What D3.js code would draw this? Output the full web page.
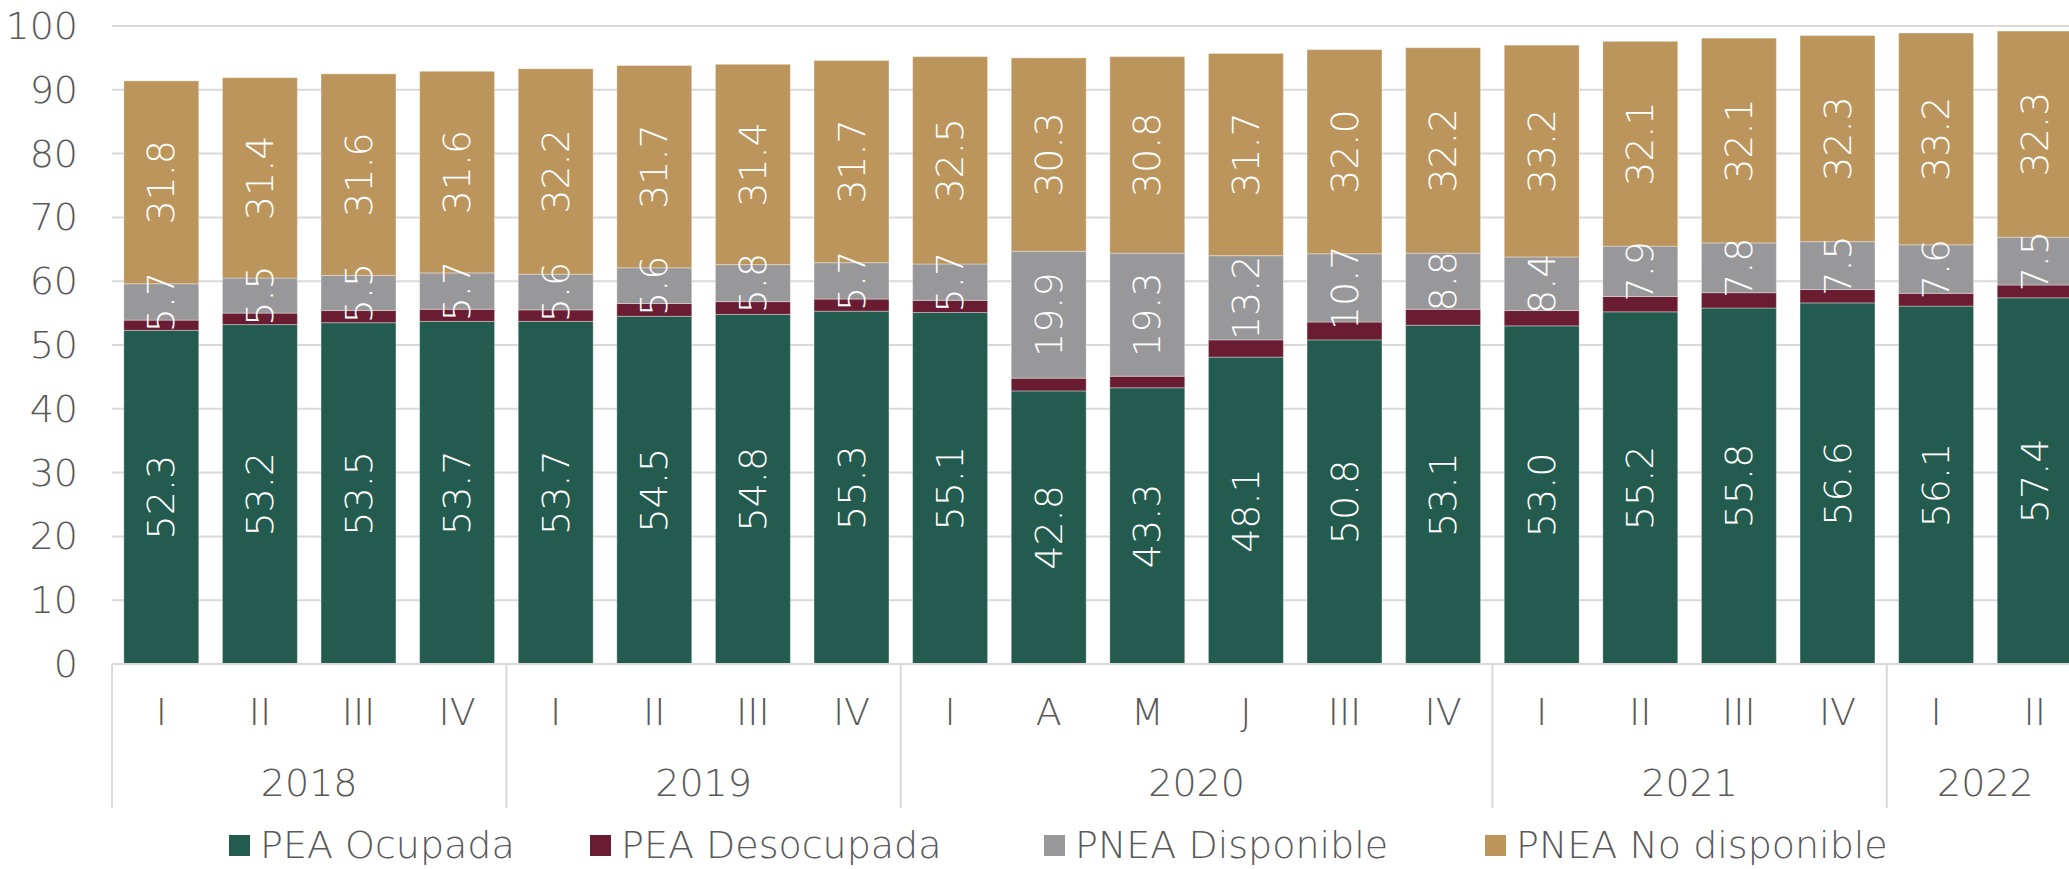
<!DOCTYPE html>
<html>
<head>
<meta charset="utf-8">
<script src="https://cdn.jsdelivr.net/npm/d3@7"></script>
<style>
  body { margin: 0; background: #fff; }
  svg { display: block; font-family: "DejaVu Sans", "Open Sans", sans-serif; font-weight: 200; }
</style>
</head>
<body>
<div id="chart_container"></div>
<script>
// chart dimensions
const WIDTH = 2069;
const HEIGHT = 869;
const PLOT = Object.freeze({ left: 112, right: 2084, top: 26, bottom: 664 });
const FONT_SIZE = "38px";

// data (millones de personas)
const periods = ["I", "II", "III", "IV", "I", "II", "III", "IV", "I", "A", "M", "J", "III", "IV", "I", "II", "III", "IV", "I", "II"];
const years = ["2018", "2018", "2018", "2018", "2019", "2019", "2019", "2019", "2020", "2020", "2020", "2020", "2020", "2020", "2021", "2021", "2021", "2021", "2022", "2022"];
const peaOcupada = [52.3, 53.2, 53.5, 53.7, 53.7, 54.5, 54.8, 55.3, 55.1, 42.8, 43.3, 48.1, 50.8, 53.1, 53.0, 55.2, 55.8, 56.6, 56.1, 57.4];
const peaDesocupada = [1.6, 1.8, 1.9, 1.9, 1.8, 2.0, 2.0, 1.9, 1.9, 2.0, 1.8, 2.7, 2.8, 2.5, 2.4, 2.4, 2.4, 2.1, 2.0, 2.0];
const pneaDisponible = [5.7, 5.5, 5.5, 5.7, 5.6, 5.6, 5.8, 5.7, 5.7, 19.9, 19.3, 13.2, 10.7, 8.8, 8.4, 7.9, 7.8, 7.5, 7.6, 7.5];
const pneaNoDisponible = [31.8, 31.4, 31.6, 31.6, 32.2, 31.7, 31.4, 31.7, 32.5, 30.3, 30.8, 31.7, 32.0, 32.2, 33.2, 32.1, 32.1, 32.3, 33.2, 32.3];
const yTicks = [0, 10, 20, 30, 40, 50, 60, 70, 80, 90, 100];

const SERIES = [
  { key: "ocupada", name: "PEA Ocupada", values: peaOcupada, color: "#235B4E", label: true },
  { key: "desocupada", name: "PEA Desocupada", values: peaDesocupada, color: "#691C32", label: false },
  { key: "disponible", name: "PNEA Disponible", values: pneaDisponible, color: "#98989A", label: true },
  { key: "nodisponible", name: "PNEA No disponible", values: pneaNoDisponible, color: "#BC955C", label: true },
];

const TEXT_COLOR = "#595959";
const GRID_COLOR = "#d9d9d9";

// build table rows for the stack
const rows = periods.map((p, i) => {
  const row = { id: i, period: p, year: years[i] };
  SERIES.forEach((s) => (row[s.key] = s.values[i]));
  return row;
});

const stacked = d3.stack().keys(SERIES.map((s) => s.key))(rows);

const svg = d3
  .select("#chart_container")
  .append("svg")
  .attr("width", WIDTH)
  .attr("height", HEIGHT);

const x = d3
  .scaleBand()
  .domain(rows.map((d) => d.id))
  .range([PLOT.left, PLOT.right])
  .paddingInner(0.24)
  .paddingOuter(0.12);

const y = d3.scaleLinear().domain([0, 100]).range([PLOT.bottom, PLOT.top]);

// gridlines
svg
  .append("g")
  .selectAll("line")
  .data(yTicks)
  .join("line")
  .attr("x1", PLOT.left)
  .attr("x2", WIDTH)
  .attr("y1", (d) => y(d))
  .attr("y2", (d) => y(d))
  .attr("stroke", GRID_COLOR)
  .attr("stroke-width", 2);

// y axis labels
svg
  .append("g")
  .selectAll("text")
  .data(yTicks)
  .join("text")
  .attr("x", 78)
  .attr("y", (d) => y(d))
  .attr("text-anchor", "end")
  .attr("dominant-baseline", "central")
  .style("font-size", FONT_SIZE)
  .style("fill", TEXT_COLOR)
  .text((d) => d);

// bars
const layers = svg
  .append("g")
  .selectAll("g")
  .data(stacked)
  .join("g")
  .attr("fill", (d, i) => SERIES[i].color);

layers
  .selectAll("rect")
  .data((d) => d)
  .join("rect")
  .attr("x", (d) => x(d.data.id))
  .attr("y", (d) => y(d[1]))
  .attr("width", x.bandwidth())
  .attr("height", (d) => y(d[0]) - y(d[1]))
  .attr("stroke", "rgba(255,255,255,0.35)")
  .attr("stroke-width", 1);

// value labels inside segments
stacked.forEach((layer, i) => {
  if (!SERIES[i].label) return;
  svg
    .append("g")
    .selectAll("text")
    .data(layer)
    .join("text")
    .attr("transform", (d) => {
      const cx = x(d.data.id) + x.bandwidth() / 2;
      const cy = y((d[0] + d[1]) / 2);
      return `translate(${cx},${cy}) rotate(-90)`;
    })
    .attr("text-anchor", "middle")
    .attr("dominant-baseline", "central")
    .style("font-size", FONT_SIZE)
    .style("fill", "#ffffff")
    .text((d) => d3.format(".1f")(d[1] - d[0]));
});

// x axis base line
svg
  .append("line")
  .attr("x1", PLOT.left)
  .attr("x2", WIDTH)
  .attr("y1", y(0))
  .attr("y2", y(0))
  .attr("stroke", GRID_COLOR)
  .attr("stroke-width", 2);

// period labels
svg
  .append("g")
  .selectAll("text")
  .data(rows)
  .join("text")
  .attr("x", (d) => x(d.id) + x.bandwidth() / 2)
  .attr("y", 712)
  .attr("text-anchor", "middle")
  .attr("dominant-baseline", "central")
  .style("font-size", FONT_SIZE)
  .style("fill", TEXT_COLOR)
  .text((d) => d.period);

// year groups
const groups = d3.groups(rows, (d) => d.year).map(([year, items]) => ({
  year,
  x0: x(items[0].id) - (x.step() * x.paddingInner()) / 2,
  x1: x(items[items.length - 1].id) + x.bandwidth() + (x.step() * x.paddingInner()) / 2,
}));
groups[0].x0 = PLOT.left;

const sepX = [groups[0].x0].concat(groups.map((g) => g.x1));
svg
  .append("g")
  .selectAll("line")
  .data(sepX)
  .join("line")
  .attr("x1", (d) => d)
  .attr("x2", (d) => d)
  .attr("y1", y(0))
  .attr("y2", 808)
  .attr("stroke", GRID_COLOR)
  .attr("stroke-width", 2);

svg
  .append("g")
  .selectAll("text")
  .data(groups)
  .join("text")
  .attr("x", (d) => (d.x0 + d.x1) / 2)
  .attr("y", 783)
  .attr("text-anchor", "middle")
  .attr("dominant-baseline", "central")
  .style("font-size", FONT_SIZE)
  .style("fill", TEXT_COLOR)
  .text((d) => d.year);

// legend
const legendX = [229, 590, 1044, 1485];
const legend = svg
  .append("g")
  .selectAll("g")
  .data(SERIES)
  .join("g")
  .attr("transform", (d, i) => `translate(${legendX[i]}, 845)`);

legend
  .append("rect")
  .attr("x", 0)
  .attr("y", -10)
  .attr("width", 21)
  .attr("height", 21)
  .attr("fill", (d) => d.color);

legend
  .append("text")
  .attr("x", 31)
  .attr("y", 0)
  .attr("dominant-baseline", "central")
  .style("font-size", FONT_SIZE)
  .style("fill", TEXT_COLOR)
  .text((d) => d.name);
</script>
</body>
</html>
